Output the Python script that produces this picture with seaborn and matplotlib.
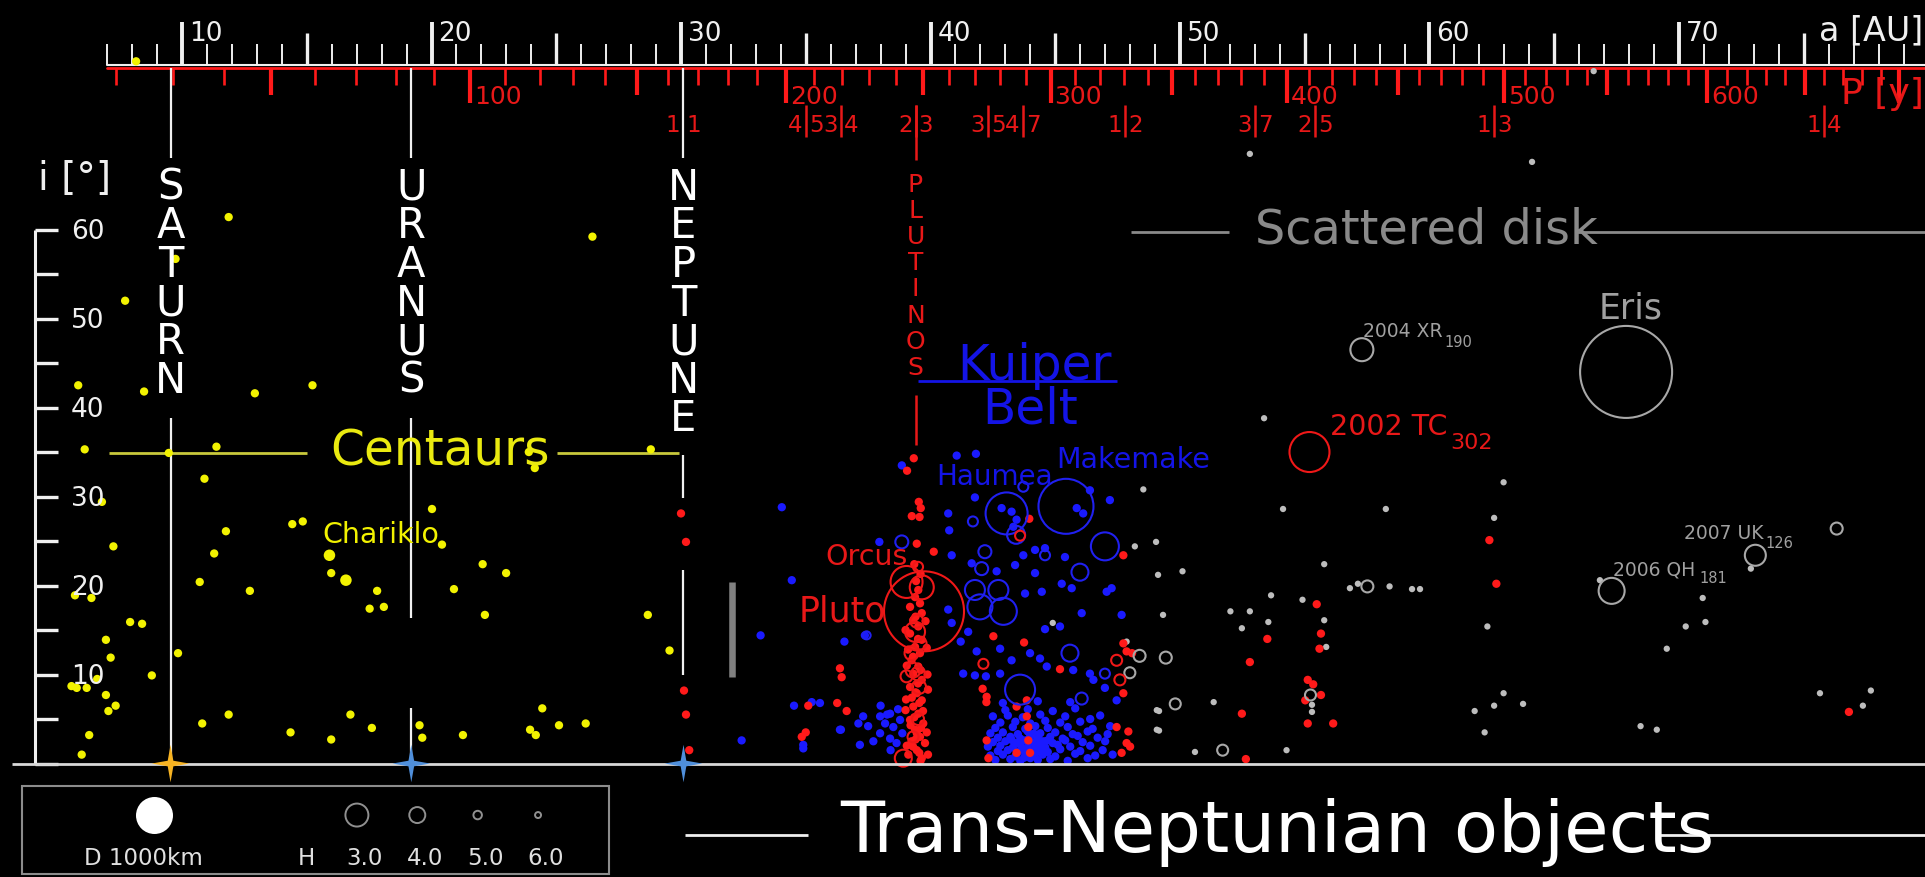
import numpy as np
import pandas as pd
import seaborn as sns
import matplotlib.pyplot as plt
from matplotlib.path import Path
from matplotlib.patches import Rectangle

# ---------------- data: semi-major axis a [AU], inclination i [deg] ----------------
centaurs = [(11.87, 61.4), (9.74, 56.7), (7.72, 52.0), (26.45, 59.2), (5.84, 42.5), (8.48, 41.8),
            (12.92, 41.6), (15.23, 42.5), (6.10, 35.3), (9.47, 34.9), (11.38, 35.6), (23.90, 35.0),
            (24.14, 33.2), (28.79, 35.3), (10.90, 32.0), (6.79, 29.4), (20.02, 28.6), (14.42, 26.9),
            (14.84, 27.2), (11.76, 26.1), (20.42, 24.6), (7.25, 24.4), (11.29, 23.6), (15.98, 21.4),
            (10.71, 20.4), (12.72, 19.4), (5.71, 18.9), (6.37, 18.6), (17.82, 19.4), (17.52, 17.4),
            (18.09, 17.6), (22.05, 22.4), (22.99, 21.4), (20.90, 19.6), (22.14, 16.7), (28.67, 16.7),
            (7.92, 15.9), (8.40, 15.7), (6.95, 13.9), (7.14, 11.9), (9.84, 12.4), (8.79, 9.9),
            (6.60, 9.5), (5.57, 8.7), (5.78, 8.5), (6.18, 8.5), (6.95, 7.7), (7.34, 6.5), (7.05, 5.9),
            (29.54, 12.7), (11.87, 5.5), (10.81, 4.5), (16.75, 5.5), (14.35, 3.5), (15.98, 2.7),
            (17.61, 4.0), (19.52, 4.3), (19.63, 2.9), (21.26, 3.2), (23.95, 3.8), (24.18, 3.2),
            (24.44, 6.2), (25.11, 4.3), (26.18, 4.5), (6.28, 3.2), (5.98, 1.0), (8.16, 78.9)]
centaurs_big = [(15.91, 23.4), (16.57, 20.6)]

trojans = [(30.00, 28.1), (30.20, 24.9), (30.12, 8.2), (30.20, 5.5), (30.33, 1.5)]

resonant = [(36.37, 10.7), (36.44, 9.7), (35.10, 6.5), (36.26, 6.8), (36.64, 5.9), (35.00, 3.5), (34.84, 3.0),
            (39.33, 34.3), (39.06, 32.9), (39.53, 29.4), (39.61, 28.7), (39.25, 27.8), (39.56, 27.7),
            (39.45, 24.7), (39.51, 19.5), (39.38, 18.7), (39.58, 18.0), (40.13, 23.8),
            (39.18, 17.6), (39.65, 16.9), (39.31, 16.1), (39.51, 15.4), (39.18, 14.6), (39.65, 13.9),
            (39.38, 13.1), (39.58, 12.4), (39.24, 11.6), (39.51, 10.9), (39.31, 10.1), (39.65, 9.4),
            (39.18, 8.6), (39.45, 7.9), (39.65, 7.1), (39.31, 6.4), (39.51, 5.6), (39.18, 4.9),
            (39.71, 4.5), (39.38, 3.8), (39.58, 3.0), (39.24, 2.5), (39.78, 2.3), (39.45, 1.5),
            (39.11, 1.0), (39.65, 0.6), (39.40, 16.5), (39.50, 14.0), (39.30, 12.0), (39.60, 10.5),
            (39.40, 8.0), (39.55, 6.8), (39.35, 5.2), (39.62, 4.0), (39.45, 3.4), (39.30, 1.9),
            (39.55, 1.2), (39.42, 20.5), (39.60, 21.3), (39.35, 22.4), (39.50, 9.0), (39.25, 7.4),
            (39.70, 5.9), (39.40, 2.7), (39.60, 0.3), (39.20, 4.3),
            (39.00, 15.0), (39.85, 13.0), (39.05, 11.0), (39.90, 8.3), (39.00, 6.0), (39.85, 3.5),
            (39.05, 2.0), (39.90, 1.0), (39.10, 12.8), (39.80, 16.0), (39.88, 10.0), (39.02, 7.2),
            (43.96, 27.5), (47.73, 23.4), (42.52, 14.3), (43.75, 13.6), (45.19, 10.6), (42.25, 7.5),
            (43.86, 7.1), (43.45, 6.4), (43.86, 5.3), (42.25, 2.6), (43.92, 4.1), (43.92, 2.6),
            (43.45, 1.2), (43.99, 1.2), (42.09, 8.4), (42.24, 6.9), (42.32, 0.6),
            (47.73, 13.5), (47.86, 12.6), (47.73, 7.9), (47.46, 4.1), (47.93, 3.6), (47.86, 2.3),
            (47.66, 1.2), (48.08, 12.4), (48.00, 1.9),
            (62.40, 25.1), (62.68, 20.2), (55.48, 17.9), (55.65, 14.6), (55.59, 12.9), (53.50, 14.0),
            (52.80, 11.4), (55.12, 9.4), (55.34, 8.9), (55.65, 7.7), (55.02, 7.1), (52.48, 5.6),
            (55.12, 4.5), (56.14, 4.5), (76.81, 5.8), (52.64, 0.5)]

classical = [(34.04, 28.8), (34.44, 20.6), (33.19, 14.4), (36.55, 13.7), (34.53, 6.5), (35.57, 6.8),
             (35.24, 6.9), (32.43, 2.6), (36.37, 3.8), (37.11, 4.5), (34.90, 2.1), (34.90, 1.7),
             (37.17, 2.1), (37.71, 2.5), (37.98, 5.3), (38.38, 5.6), (38.18, 4.5), (38.51, 4.1),
             (38.78, 4.9), (37.98, 3.4), (38.38, 2.8), (38.64, 2.3), (38.26, 5.5), (36.41, 3.8),
             (38.87, 3.4), (38.00, 6.5), (38.40, 1.5), (37.50, 4.2), (38.70, 6.1), (37.30, 5.3),
             (41.05, 34.6), (41.82, 34.8), (38.85, 33.5), (41.78, 29.9), (40.71, 28.1), (40.75, 26.2),
             (40.85, 23.4), (41.65, 22.5), (42.85, 28.7), (43.25, 28.3), (43.45, 27.4), (43.32, 26.6),
             (45.86, 28.7), (46.12, 28.1), (46.39, 30.7), (47.19, 29.6), (44.59, 24.2), (44.19, 24.0),
             (43.72, 23.4), (45.39, 23.2), (43.39, 22.3), (44.19, 21.4), (42.65, 21.6), (44.46, 19.3),
             (45.26, 20.2), (45.66, 19.7), (43.79, 19.1), (47.06, 19.3), (47.26, 19.7), (46.06, 16.9),
             (47.66, 16.7), (40.71, 17.3), (40.85, 15.8), (41.51, 14.8), (44.59, 15.1), (45.19, 15.4),
             (41.21, 13.7), (41.85, 12.6), (42.79, 12.9), (43.25, 11.6), (43.99, 12.4), (44.39, 11.8),
             (41.31, 10.1), (41.78, 9.9), (42.22, 9.8), (42.79, 10.1), (44.66, 10.9), (45.72, 10.5),
             (46.39, 10.1), (46.53, 9.4), (46.99, 8.5), (47.46, 7.1), (37.37, 14.4), (37.95, 24.9)]

kernel = [(42.6, 0.4), (43.2, 0.5), (43.6, 0.3), (44.0, 0.6), (44.3, 0.4), (44.8, 0.5), (45.5, 0.3), (46.3, 0.6),
          (42.4, 0.9), (42.9, 1.0), (43.4, 0.8), (43.8, 1.1), (44.1, 0.9), (44.5, 1.0), (45.0, 0.8), (45.8, 1.1),
          (46.6, 0.9), (42.7, 1.4), (43.1, 1.5), (43.5, 1.3), (43.7, 1.6), (44.0, 1.4), (44.4, 1.5), (44.7, 1.3),
          (45.2, 1.6), (46.0, 1.4), (46.9, 1.5), (42.3, 1.9), (42.8, 2.0), (43.3, 1.8), (43.6, 2.1), (43.9, 1.9),
          (44.2, 2.0), (44.6, 1.8), (45.1, 2.1), (45.6, 1.9), (46.4, 2.0), (42.5, 2.4), (43.0, 2.5), (43.4, 2.3),
          (43.8, 2.6), (44.1, 2.4), (44.5, 2.5), (44.9, 2.3), (45.4, 2.6), (46.1, 2.4), (47.0, 2.5), (42.7, 2.9),
          (43.2, 3.0), (43.6, 2.8), (44.0, 3.1), (44.3, 2.9), (44.8, 3.0), (45.3, 2.8), (45.9, 3.1), (46.7, 2.9),
          (42.4, 3.4), (42.9, 3.5), (43.5, 3.3), (43.9, 3.6), (44.4, 3.4), (45.0, 3.5), (45.7, 3.3), (46.3, 3.6),
          (42.6, 4.0), (43.3, 4.1), (43.8, 3.9), (44.2, 4.2), (44.7, 4.0), (45.5, 4.1), (46.5, 3.9), (47.2, 4.2),
          (42.8, 4.6), (43.4, 4.7), (44.0, 4.5), (44.6, 4.8), (45.2, 4.6), (46.0, 4.7), (42.5, 5.3), (43.1, 5.4),
          (43.7, 5.2), (44.4, 5.5), (45.4, 5.3), (46.8, 5.4), (43.0, 6.0), (43.9, 6.1), (44.9, 5.9), (45.8, 6.2),
          (43.45, 1.05), (43.85, 1.55), (44.25, 1.25), (43.55, 2.35), (43.95, 2.75), (44.35, 2.15),
          (43.25, 2.65), (44.65, 2.55), (43.75, 0.65), (44.15, 3.35), (42.9, 6.8), (44.3, 7.0),
          (45.6, 6.9), (46.4, 5.0), (47.1, 3.3), (47.3, 1.0)]

scattered = [(48.53, 30.8), (48.19, 24.4), (49.04, 24.9), (49.12, 21.2), (44.90, 15.8), (47.86, 13.7),
             (49.07, 6.0), (49.07, 3.8), (52.80, 68.5), (64.11, 67.6), (66.58, 77.8), (53.37, 38.8),
             (62.97, 31.6), (54.13, 28.6), (58.25, 28.6), (62.59, 27.6), (72.88, 21.9), (66.83, 20.6),
             (50.10, 21.6), (55.78, 22.4), (56.81, 19.7), (57.13, 20.2), (58.40, 19.9), (59.30, 19.6),
             (59.62, 19.6), (70.95, 18.6), (70.27, 15.4), (71.06, 15.9), (69.51, 12.9), (53.65, 18.9),
             (54.91, 18.4), (52.02, 17.1), (52.80, 17.1), (49.32, 16.7), (53.54, 15.9), (52.48, 15.2),
             (55.78, 16.1), (55.86, 13.1), (62.32, 15.4), (51.35, 6.9), (49.16, 5.9), (49.16, 3.7),
             (55.29, 6.6), (55.29, 5.8), (62.97, 7.9), (61.81, 5.9), (62.59, 6.5), (63.75, 6.7),
             (62.21, 3.5), (68.46, 4.2), (69.11, 3.8), (75.65, 7.9), (77.69, 8.2), (77.37, 6.5),
             (50.60, 1.3), (54.27, 1.5)]

# open circles: (a, i, apparent diameter in px ~ absolute magnitude H)
resonant_big = [(39.74, 17.1, 80), (39.04, 20.4, 32), (39.65, 19.8, 24), (39.38, 14.8, 20), (39.30, 10.5, 15),
                (39.54, 8.6, 14), (39.04, 9.8, 12), (38.91, 0.6, 17), (39.50, 22.1, 10), (39.24, 12.4, 14),
                (39.51, 10.1, 14), (39.50, 5.0, 12), (39.30, 3.0, 11), (39.60, 13.5, 12), (39.45, 16.0, 13),
                (43.59, 25.6, 10), (42.12, 11.2, 10), (47.46, 11.6, 11), (47.59, 9.4, 11), (55.19, 35.0, 40)]
classical_big = [(43.05, 28.1, 42), (45.43, 28.9, 55), (46.99, 24.4, 28), (45.99, 21.5, 17), (43.43, 25.7, 18),
                 (41.70, 27.2, 10), (38.85, 24.9, 13), (42.18, 23.8, 13), (42.05, 21.9, 13), (41.78, 19.5, 20),
                 (42.72, 19.5, 20), (41.98, 17.6, 25), (42.92, 17.1, 27), (45.59, 12.4, 17), (43.59, 8.3, 30),
                 (46.06, 7.3, 12), (44.59, 23.4, 10), (43.72, 31.1, 10), (46.99, 10.1, 10), (37.44, 14.4, 8)]
scattered_big = [(57.29, 46.5, 23), (67.88, 44.0, 92), (76.32, 26.4, 12), (73.06, 23.4, 21), (67.30, 19.4, 26),
                 (57.51, 19.9, 12), (48.38, 12.1, 12), (49.43, 11.9, 12), (47.99, 10.2, 11), (49.81, 6.7, 11),
                 (55.23, 7.7, 11), (51.71, 1.5, 11)]

planets = ["SATURN", "URANUS", "NEPTUNE"]
planet_a = [9.54, 19.19, 30.1]
planet_star = ["#f7b322", "#4f8fdb", "#4f8fdb"]

res_a = [30.1, 35.0, 36.4, 39.4, 42.3, 43.7, 47.8, 53.0, 55.4, 62.6, 75.8]
res_num = ["1", "4", "3", "2", "3", "4", "1", "3", "2", "1", "1"]
res_den = ["1", "5", "4", "3", "5", "7", "2", "7", "5", "3", "4"]

a_labels = [10, 20, 30, 40, 50, 60, 70]
p_labels = [100, 200, 300, 400, 500, 600]
i_labels = [10, 20, 30, 40, 50, 60]

legend_H = ["3.0", "4.0", "5.0", "6.0"]
legend_d = [23, 16, 8.5, 6]

WHITE = "#f0f0f0"
RED = "#ff1a1a"
RED_TXT = "#e81818"
BLUE = "#1a1aff"
BLUE_TXT = "#1414e6"
YELLOW = "#f2f200"
GREY = "#bdbdbd"
GREY_TXT = "#a0a0a0"

sns.set_theme(style="dark")
plt.rcParams['font.family'] = ['DejaVu Sans']

fig = plt.figure(figsize=(19.25, 8.77), dpi=100, facecolor="black")
ax = fig.add_axes([0, 0, 1, 1])
ax.set_facecolor("black")
ax.set_xlim(2.705, 79.86)
ax.set_ylim(-12.75, 85.79)
ax.set_axis_off()


def px(d):
    # marker diameter in px -> scatter area in pt^2
    return (d * 0.72) ** 2


def frame(pairs, group):
    a, i = zip(*pairs)
    return pd.DataFrame({"a": a, "i": i, "group": group})


# ---------------- points ----------------
dots = pd.concat([frame(classical + kernel, "classical"), frame(scattered, "scattered"),
                  frame(centaurs, "centaur"), frame(resonant + trojans, "resonant"),
                  frame(centaurs_big, "centaur_big")], ignore_index=True)
palette = {"classical": BLUE, "scattered": GREY, "centaur": YELLOW, "resonant": RED, "centaur_big": YELLOW}
sizes = {"classical": px(8.3), "scattered": px(6.3), "centaur": px(8.3), "resonant": px(8.3), "centaur_big": px(11.5)}
sns.scatterplot(data=dots, x="a", y="i", hue="group", palette=palette, size="group", sizes=sizes,
                linewidth=0, legend=False, ax=ax, zorder=3)

for pairs, col in [(classical_big, "#2020f0"), (scattered_big, "#a8a8a8"), (resonant_big, "#f01818")]:
    a, i, d = zip(*pairs)
    ax.scatter(a, i, s=[px(v) for v in d], facecolors="none", edgecolors=col, linewidths=1.5, zorder=4)

# ---------------- top scales ----------------
ax.plot([7, 79.86], [78.45, 78.45], color=WHITE, lw=1.5, zorder=2)
ax.plot([7, 79.86], [78.2, 78.2], color=RED, lw=2, zorder=2)
for a in range(7, 80):
    if a % 10 == 0:
        top, lw = 83.35, 2.8
    elif a % 5 == 0:
        top, lw = 82.1, 2.4
    else:
        top, lw = 80.9, 1.4
    ax.vlines(a, 78.45, top, color=WHITE, lw=lw, zorder=2)
for a in a_labels:
    ax.text(a + 0.28, 81.2, str(a), color=WHITE, fontsize=19, ha="left", va="baseline")
ax.text(75.6, 81.2, "a [AU]", color=WHITE, fontsize=24, ha="left", va="baseline")

for P in range(20, 710, 10):
    a = P ** (2 / 3)
    if P % 100 == 0:
        bot, lw = 74.18, 3
    elif P % 50 == 0:
        bot, lw = 75.12, 3
    else:
        bot, lw = 76.24, 1.9
    ax.vlines(a, bot, 78.2, color=RED, lw=lw, zorder=2)
for P in p_labels:
    ax.text(P ** (2 / 3) + 0.16, 74.1, str(P), color=RED_TXT, fontsize=18, ha="left", va="baseline")
ax.text(76.5, 74.1, "P [y]", color=RED_TXT, fontsize=26, ha="left", va="baseline")

for a, n, d in zip(res_a, res_num, res_den):
    ax.text(a - 0.12, 70.96, n, color=RED_TXT, fontsize=16.5, ha="right", va="baseline")
    ax.text(a + 0.12, 70.96, d, color=RED_TXT, fontsize=16.5, ha="left", va="baseline")
    if a != 30.1:
        ax.vlines(a, 70.4, 74.0, color=RED_TXT, lw=1.8)

# plutinos marker
ax.vlines(39.4, 67.8, 74.0, color=RED_TXT, lw=1.8)
ax.vlines(39.4, 35.8, 41.4, color=RED_TXT, lw=1.8)
for k, ch in enumerate("PLUTINOS"):
    ax.text(39.4, 64.21 - 2.933 * k, ch, color=RED_TXT, fontsize=18, ha="center", va="baseline")

# ---------------- planets ----------------
segments = {
    "SATURN": [(68.0, 78.1), (0, 38.8)],
    "URANUS": [(68.0, 78.1), (16.35, 38.8), (0, 6.24)],
    "NEPTUNE": [(68.0, 78.1), (29.8, 34.7), (9.94, 21.7)],
}
for name, a, col in zip(planets, planet_a, planet_star):
    for lo, hi in segments[name]:
        ax.vlines(a, lo, hi, color=WHITE, lw=1.6, zorder=2)
    for k, ch in enumerate(name):
        ax.text(a, 63.34 - 4.337 * k, ch, color="white", fontsize=30, ha="center", va="baseline")

star = Path([(0, 1), (0.15, 0.15), (1, 0), (0.15, -0.15), (0, -1), (-0.15, -0.15), (-1, 0), (-0.15, 0.15), (0, 1)],
            closed=True)
ax.scatter(planet_a, [0, 0, 0], marker=star, s=27 ** 2, c=planet_star, linewidths=0, zorder=6)

# ---------------- left axis and baseline ----------------
ax.hlines(0, 3.186, 79.86, color="#d8d8d8", lw=2, zorder=5)
ax.vlines(4.108, 0, 60, color=WHITE, lw=2.2)
for t in range(0, 61, 5):
    ax.hlines(t, 4.108, 5.03, color=WHITE, lw=2.4)
for t in i_labels:
    ax.text(5.55, t - 1.1, str(t), color=WHITE, fontsize=19, ha="left", va="baseline")
ax.text(4.23, 64.4, "i [°]", color=WHITE, fontsize=28, ha="left", va="baseline")

ax.vlines(32.04, 9.72, 20.39, color="#808080", lw=4.7)

# ---------------- region labels ----------------
ax.hlines(34.85, 7.07, 15.01, color="#c8c83c", lw=2)
ax.hlines(34.85, 25.03, 29.9, color="#c8c83c", lw=2)
ax.text(20.34, 33.54, "Centaurs", color="#eaea10", fontsize=35, ha="center", va="baseline", zorder=5)

ax.hlines(42.98, 39.5, 47.48, color=BLUE_TXT, lw=2)
ax.text(44.15, 43.09, "Kuiper", color=BLUE_TXT, fontsize=35, ha="center", va="baseline")
ax.text(43.99, 38.22, "Belt", color=BLUE_TXT, fontsize=35, ha="center", va="baseline")

ax.hlines(59.75, 48.02, 51.96, color="#8a8a8a", lw=2)
ax.hlines(59.75, 65.87, 79.86, color="#8a8a8a", lw=2)
ax.text(53.0, 58.45, "Scattered disk", color="#8a8a8a", fontsize=34.5, ha="left", va="baseline")

ax.hlines(-8.03, 30.16, 35.09, color=WHITE, lw=2)
ax.hlines(-8.03, 69.08, 79.86, color=WHITE, lw=2)
ax.text(36.40, -9.91, "Trans-Neptunian objects", color="white", fontsize=52, ha="left", va="baseline")

# ---------------- object names ----------------
names = [("Chariklo", 15.61, 24.78, YELLOW, 20.5), ("Haumea", 40.22, 31.29, BLUE_TXT, 20),
         ("Makemake", 45.06, 33.17, BLUE_TXT, 20.5), ("Orcus", 35.80, 22.3, RED_TXT, 20.5),
         ("Pluto", 34.70, 15.93, RED_TXT, 25), ("2002 TC", 56.03, 36.91, RED_TXT, 20.5),
         ("2004 XR", 57.33, 47.89, GREY_TXT, 13.5), ("Eris", 66.79, 50.02, GREY_TXT, 25),
         ("2007 UK", 70.2, 25.19, GREY_TXT, 13.5), ("2006 QH", 67.35, 21.18, GREY_TXT, 13.5)]
for txt, a, i, col, fs in names:
    ax.text(a, i, txt, color=col, fontsize=fs, ha="left", va="baseline", zorder=7)
subs = [("302", 60.85, 35.34, RED_TXT, 16), ("190", 60.6, 46.83, GREY_TXT, 10.5),
        ("126", 73.45, 24.25, GREY_TXT, 10.5), ("181", 70.8, 20.25, GREY_TXT, 10.5)]
for txt, a, i, col, fs in subs:
    ax.text(a, i, txt, color=col, fontsize=fs, ha="left", va="baseline", zorder=7)

# ---------------- legend box ----------------
ax.add_patch(Rectangle((3.587, -12.42), 27.11 - 3.587, 12.42 - 2.53, fill=False, ec="#8c8c8c", lw=1.5))
ax.scatter([8.88], [-5.79], s=px(37), color="white", linewidths=0)
ax.text(8.44, -11.4, "D 1000km", color="#e0e0e0", fontsize=16.5, ha="center", va="baseline")
ax.text(14.97, -11.4, "H", color="#e0e0e0", fontsize=16.5, ha="center", va="baseline")
for k, (h, d) in enumerate(zip(legend_H, legend_d)):
    a = 17.01 + 2.42 * k
    ax.scatter([a], [-5.79], s=px(d), facecolors="none", edgecolors="#909090", linewidths=1.4)
    ax.text(a + 0.3, -11.4, h, color="#e0e0e0", fontsize=16.5, ha="center", va="baseline")

fig.savefig("out.png", dpi=100, facecolor="black")
